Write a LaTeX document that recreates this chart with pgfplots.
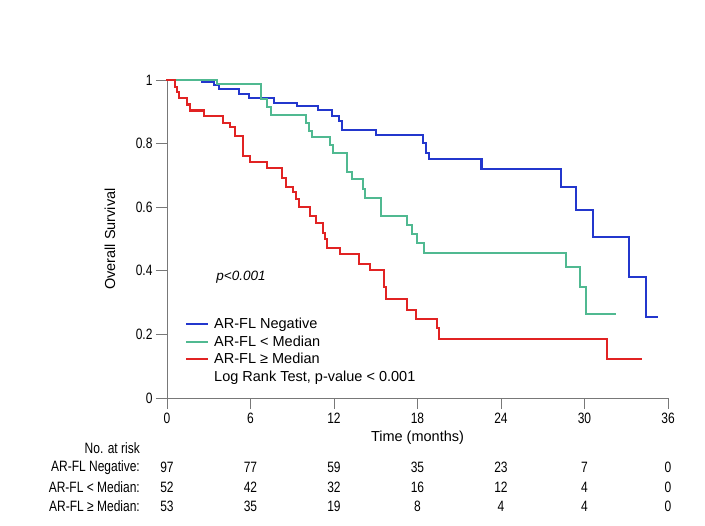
\documentclass[border=0pt]{standalone}
\usepackage{fontspec}
\setmainfont{Liberation Sans}
\usepackage{graphicx}
\usepackage{pgfplots}
\pgfplotsset{compat=1.18}
\definecolor{kmblue}{RGB}{35,55,205}
\definecolor{kmgreen}{RGB}{80,185,145}
\definecolor{kmred}{RGB}{225,35,35}
\definecolor{axisgray}{RGB}{120,120,120}

% condensed look: horizontally squeezed Liberation Sans
\newcommand{\cond}[1]{\scalebox{0.8}[1]{\fontsize{15}{15}\selectfont #1}}
\newcommand{\labfont}{\fontsize{14.5}{17}\selectfont}
\newcommand{\risk}[4]{%
  \node at (axis cs:#1,-0.219) {\cond{#2}};
  \node at (axis cs:#1,-0.280) {\cond{#3}};
  \node at (axis cs:#1,-0.340) {\cond{#4}};}

\begin{document}
\begin{tikzpicture}[x=1pt,y=1pt]
\useasboundingbox (0,0) rectangle (705,526);
\begin{axis}[
    at={(167pt,128pt)}, anchor=south west,
    scale only axis, width=501pt, height=318pt,
    xmin=0, xmax=36, ymin=0, ymax=1,
    axis x line*=bottom, axis y line*=left,
    axis line style={axisgray, line width=0.8pt},
    every tick/.style={axisgray, line width=0.8pt},
    tick align=outside, major tick length=11pt,
    xtick={0,6,12,18,24,30,36},
    xticklabels={\cond{0},\cond{6},\cond{12},\cond{18},\cond{24},\cond{30},\cond{36}},
    ytick={0,0.2,0.4,0.6,0.8,1},
    yticklabels={\cond{0},\cond{0.2},\cond{0.4},\cond{0.6},\cond{0.8},\cond{1}},
    xlabel={Time (months)}, ylabel={Overall Survival},
    label style={font=\labfont},
    xlabel style={at={(axis description cs:0.5,-0.126)}, anchor=center},
    ylabel style={at={(axis description cs:-0.114,0.5)}, anchor=center},
    clip=false,
    every axis plot/.append style={line width=2.1pt, line join=miter, line cap=rect},
    legend image code/.code={\draw[#1, line width=1.8pt, line cap=butt] (0pt,0pt) -- (22pt,0pt); \path (26pt,0pt);},
    legend style={at={(axis cs:1.3,0.255)}, anchor=north west, draw=none, fill=none,
        font=\labfont, cells={anchor=west}, row sep=3.5pt, inner sep=0pt,
        nodes={inner sep=1pt}},
]
% AR-FL Negative
\addplot[const plot, kmblue] table {
t s
0 1
2.51 0.993
3.38 0.984
3.74 0.971
5.17 0.957
5.89 0.944
7.69 0.928
9.32 0.919
10.85 0.906
11.83 0.888
12.36 0.872
12.55 0.843
15.01 0.828
18.37 0.803
18.60 0.771
18.80 0.751
22.60 0.719
28.30 0.664
29.38 0.591
30.58 0.507
33.20 0.381
34.39 0.256
35.22 0.256
};
\addlegendentry{AR-FL Negative}
% AR-FL < Median
\addplot[const plot, kmgreen] table {
t s
0 1
3.61 0.986
6.73 0.940
7.16 0.916
7.49 0.889
9.96 0.866
10.20 0.841
10.40 0.822
11.71 0.796
11.95 0.770
12.95 0.712
13.29 0.688
14.06 0.656
14.22 0.630
15.37 0.571
17.22 0.544
17.60 0.516
17.94 0.486
18.48 0.457
28.64 0.413
29.67 0.350
30.08 0.264
32.18 0.264
};
\addlegendentry{AR-FL < Median}
% AR-FL >= Median
\addplot[const plot, kmred] table {
t s
0 1
0.57 0.977
0.70 0.963
0.86 0.944
1.46 0.923
1.65 0.904
2.68 0.888
4.00 0.864
4.53 0.851
4.89 0.825
5.44 0.762
5.96 0.743
7.16 0.724
8.28 0.693
8.55 0.664
9.07 0.648
9.27 0.626
9.50 0.601
10.27 0.572
10.70 0.549
11.18 0.520
11.35 0.499
11.52 0.471
12.43 0.453
13.79 0.421
14.58 0.403
15.59 0.350
15.73 0.311
17.22 0.277
17.89 0.248
19.37 0.219
19.56 0.186
31.59 0.123
34.05 0.123
};
\addlegendentry{AR-FL ≥ Median}
\addlegendimage{white, draw opacity=0}
\addlegendentry{Log Rank Test, p-value < 0.001}

\node[anchor=west, font=\itshape\fontsize{13.5}{14}\selectfont] at (axis cs:3.3,0.38) {p<0.001};

% number at risk
\node[anchor=east] at (axis cs:-1.70,-0.158) {\cond{No. at risk}};
\node[anchor=east] at (axis cs:-1.70,-0.219) {\cond{AR-FL Negative:}};
\node[anchor=east] at (axis cs:-1.70,-0.280) {\cond{AR-FL < Median:}};
\node[anchor=east] at (axis cs:-1.70,-0.340) {\cond{AR-FL ≥ Median:}};
\risk{0}{97}{52}{53}
\risk{6}{77}{42}{35}
\risk{12}{59}{32}{19}
\risk{18}{35}{16}{8}
\risk{24}{23}{12}{4}
\risk{30}{7}{4}{4}
\risk{36}{0}{0}{0}
\end{axis}
\end{tikzpicture}
\end{document}
